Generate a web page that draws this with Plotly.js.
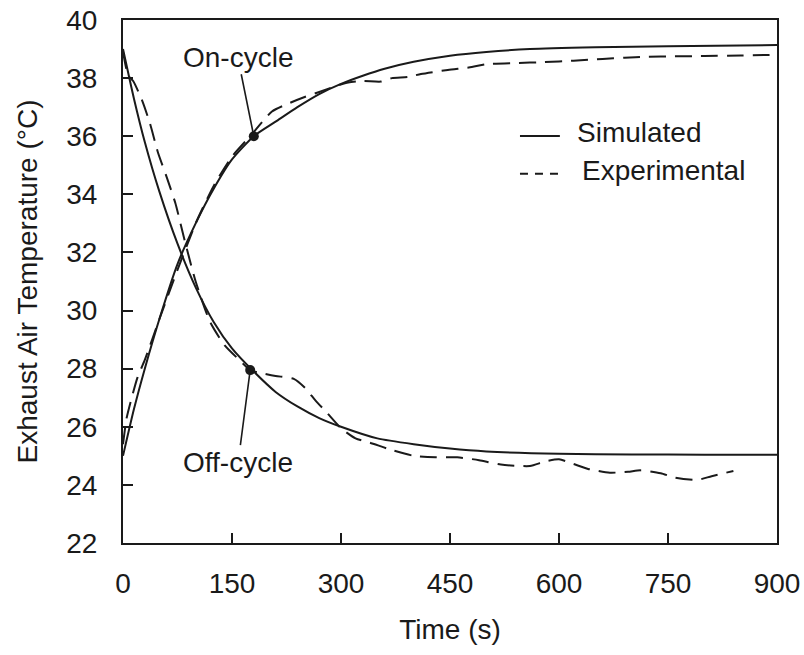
<!DOCTYPE html>
<html>
<head>
<meta charset="utf-8">
<script src="https://cdn.plot.ly/plotly-3.0.1.min.js"></script>
<style>
  html, body { margin: 0; padding: 0; background: #ffffff; }
  #chart { width: 804px; height: 655px; }
</style>
</head>
<body>
<div id="chart"></div>
<script>
// Exhaust air temperature over one on-cycle and one off-cycle (time in s, temperature in °C)

// Simulated on-cycle (heating up)
const simOnTime = [0, 15, 30, 50, 75, 100, 125, 150, 180, 210, 240, 270, 300, 330, 360, 400, 450, 500, 560, 650, 750, 900];
const simOnTemp = [25.0, 26.6, 28.0, 29.7, 31.6, 33.0, 34.2, 35.2, 36.0, 36.5, 37.0, 37.45, 37.8, 38.08, 38.32, 38.56, 38.77, 38.9, 39.0, 39.06, 39.1, 39.14];

// Experimental on-cycle
const expOnTime = [0, 5, 12, 20, 30, 50, 75, 100, 125, 150, 175, 205, 230, 250, 270, 290, 310, 330, 355, 370, 392, 410, 447, 480, 500, 540, 580, 620, 660, 690, 720, 760, 800, 850, 900];
const expOnTemp = [25.4, 26.3, 27.0, 27.7, 28.3, 29.7, 31.4, 33.0, 34.3, 35.3, 36.0, 36.85, 37.15, 37.35, 37.52, 37.7, 37.85, 37.9, 37.88, 38.0, 38.04, 38.14, 38.28, 38.38, 38.48, 38.52, 38.55, 38.6, 38.66, 38.7, 38.73, 38.75, 38.76, 38.78, 38.8];

// Simulated off-cycle (cooling down)
const simOffTime = [0, 15, 30, 50, 75, 100, 125, 150, 180, 210, 240, 270, 300, 350, 400, 450, 500, 600, 700, 800, 900];
const simOffTemp = [39.0, 37.3, 35.8, 34.1, 32.3, 30.8, 29.6, 28.7, 27.9, 27.2, 26.7, 26.3, 26.0, 25.6, 25.4, 25.25, 25.15, 25.07, 25.05, 25.04, 25.04];

// Experimental off-cycle
const expOffTime = [0, 7, 14, 26, 37, 48, 60, 72, 85, 100, 120, 140, 160, 175, 190, 210, 235, 250, 265, 280, 300, 320, 340, 370, 400, 430, 460, 490, 520, 560, 580, 600, 620, 640, 670, 695, 712, 740, 760, 790, 810, 840];
const expOffTemp = [38.9, 38.1, 37.9, 37.25, 36.45, 35.45, 34.6, 33.7, 32.4, 31.0, 29.6, 28.8, 28.3, 27.95, 27.85, 27.75, 27.65, 27.35, 26.9, 26.5, 25.95, 25.6, 25.45, 25.2, 25.0, 24.95, 24.95, 24.85, 24.7, 24.65, 24.8, 24.88, 24.72, 24.55, 24.42, 24.45, 24.5, 24.4, 24.25, 24.17, 24.3, 24.48];

// Marked points on each cycle
const markTime = [180, 175];
const markTemp = [36.0, 27.95];
const markLabels = ['On-cycle', 'Off-cycle'];

// Axis ticks
const xTicks = [0, 150, 300, 450, 600, 750, 900];
const yTicks = [22, 24, 26, 28, 30, 32, 34, 36, 38, 40];

const ink = '#1a1a1a';
const fontFamily = 'Arial, "Liberation Sans", Helvetica, sans-serif';
const fontSize = 28;
const dashStyle = '17px,9px';

const traces = [
  { x: simOnTime, y: simOnTemp, mode: 'lines', name: 'Simulated',
    line: { color: ink, width: 2, shape: 'spline', smoothing: 0.6 }, showlegend: false },
  { x: simOffTime, y: simOffTemp, mode: 'lines', name: 'Simulated',
    line: { color: ink, width: 2, shape: 'spline', smoothing: 0.6 }, showlegend: false },
  { x: expOnTime, y: expOnTemp, mode: 'lines', name: 'Experimental',
    line: { color: ink, width: 2, dash: dashStyle, shape: 'spline', smoothing: 0.6 }, showlegend: false },
  { x: expOffTime, y: expOffTemp, mode: 'lines', name: 'Experimental',
    line: { color: ink, width: 2, dash: dashStyle, shape: 'spline', smoothing: 0.6 }, showlegend: false },
  { x: markTime, y: markTemp, mode: 'markers',
    marker: { color: ink, size: 10 }, showlegend: false, hoverinfo: 'skip' }
];

// Labels with leader lines pointing at the marked points
const labelOffsets = [[-16, -79], [-12, 92]];
const annotations = markLabels.map((txt, i) => ({
  x: markTime[i], y: markTemp[i], xref: 'x', yref: 'y',
  text: txt, showarrow: true, arrowhead: 0, arrowwidth: 1.6, arrowcolor: ink,
  ax: labelOffsets[i][0], ay: labelOffsets[i][1], standoff: 3,
  font: { family: fontFamily, size: fontSize, color: ink }
}));

// Key: line samples and their names
const keyNames = ['Simulated', 'Experimental'];
const keyRows = [0.784, 0.712];
const keyTextX = [0.691, 0.699];
keyNames.forEach((name, i) => {
  annotations.push({
    xref: 'paper', yref: 'paper', x: keyTextX[i], y: keyRows[i],
    xanchor: 'left', yanchor: 'middle', showarrow: false,
    text: name, font: { family: fontFamily, size: fontSize, color: ink }
  });
});
const shapes = [
  { type: 'line', xref: 'paper', yref: 'paper', x0: 0.607, x1: 0.668, y0: keyRows[0] - 0.006, y1: keyRows[0] - 0.006,
    line: { color: ink, width: 2 } },
  { type: 'line', xref: 'paper', yref: 'paper', x0: 0.607, x1: 0.668, y0: keyRows[1] - 0.006, y1: keyRows[1] - 0.006,
    line: { color: ink, width: 2, dash: '8px,7px' } }
];

const axisCommon = {
  showgrid: false, zeroline: false,
  showline: true, linecolor: ink, linewidth: 2, mirror: true,
  ticks: 'inside', ticklen: 10, tickwidth: 2, tickcolor: ink,
  tickfont: { family: fontFamily, size: fontSize, color: ink }
};

const layout = {
  width: 804, height: 655,
  margin: { l: 123, r: 27, t: 20, b: 112 },
  paper_bgcolor: '#ffffff', plot_bgcolor: '#ffffff',
  showlegend: false,
  font: { family: fontFamily, color: ink },
  xaxis: Object.assign({}, axisCommon, {
    range: [0, 900], tickvals: xTicks, ticktext: xTicks.map(String),
    ticklabelstandoff: 14,
    title: { text: 'Time (s)', font: { family: fontFamily, size: fontSize, color: ink }, standoff: 22 }
  }),
  yaxis: Object.assign({}, axisCommon, {
    range: [22, 40], tickvals: yTicks, ticktext: yTicks.map(String),
    ticklabelstandoff: 18,
    title: { text: 'Exhaust Air Temperature (°C)', font: { family: fontFamily, size: fontSize, color: ink }, standoff: 20 }
  }),
  annotations: annotations,
  shapes: shapes
};

Plotly.newPlot('chart', traces, layout, { staticPlot: true, displayModeBar: false });
</script>
</body>
</html>
